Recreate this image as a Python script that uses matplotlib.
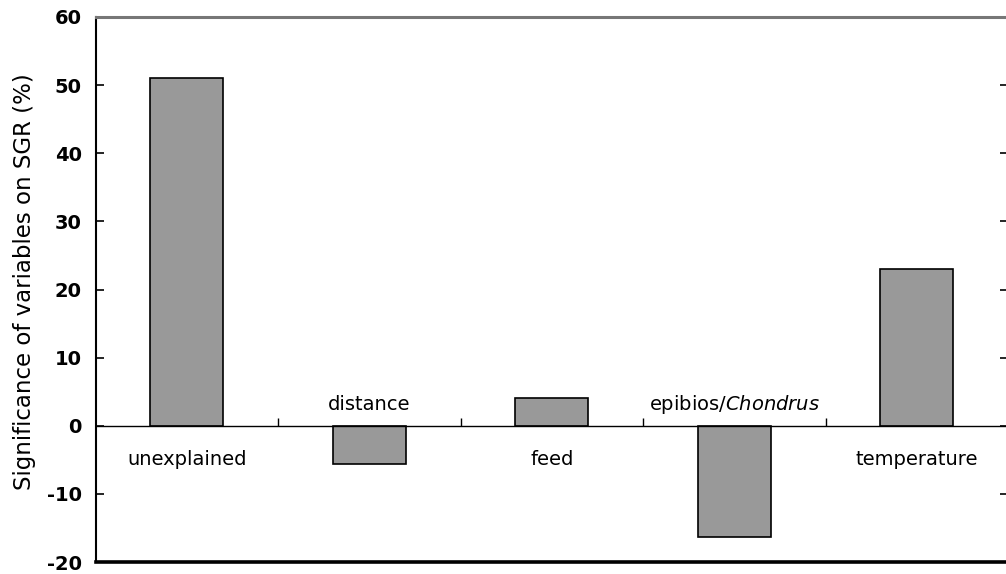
import numpy as np
import matplotlib
matplotlib.use("Agg")
import matplotlib.pyplot as plt

# values
categories = ["unexplained", "distance", "feed", r"epibios/$\mathit{Chondrus}$", "temperature"]
values = [51.0, -5.6, 4.1, -16.3, 23.0]
yticks = [-20, -10, 0, 10, 20, 30, 40, 50, 60]

plt.rcParams['font.family'] = 'DejaVu Sans'
plt.rcParams['mathtext.fontset'] = 'dejavusans'

fig = plt.figure(figsize=(10.06, 5.74), dpi=100)
ax = fig.add_axes([95.5/1006, 12/574, 912.5/1006, 545/574])

x = np.arange(len(categories))
ax.bar(x, values, width=0.4, color='#999999', edgecolor='black', linewidth=1.2, zorder=2)
ax.axhline(0, color='black', lw=1, zorder=3)

# category separator ticks on the zero line
bounds = np.arange(len(categories)) + 0.5
ax.plot(bounds, np.zeros(len(bounds)), linestyle='none', marker=2, markersize=6,
        color='black', mew=1, zorder=3, clip_on=False)

# labels: above the zero line for negative bars, below for positive ones
for i, (name, v) in enumerate(zip(categories, values)):
    if v < 0:
        ax.annotate(name, (i, 0), xytext=(0, 15), textcoords='offset points',
                    ha='center', va='center', fontsize=14)
    else:
        ax.annotate(name, (i, 0), xytext=(0, -24.5), textcoords='offset points',
                    ha='center', va='center', fontsize=14)

ax.set_xlim(-0.5, len(categories) - 0.5)
ax.set_ylim(-20, 60)
ax.set_yticks(yticks)
ax.set_yticklabels([str(t) for t in yticks], fontweight='bold', fontsize=14)
ax.set_xticks([])
ax.tick_params(axis='y', direction='in', length=6, width=1.2, pad=10, right=True)

ax.spines['top'].set_color('#777777')
ax.spines['top'].set_linewidth(2.2)
ax.spines['bottom'].set_linewidth(2.6)
ax.spines['left'].set_linewidth(1.5)
ax.spines['right'].set_linewidth(1.5)

ax.set_ylabel("Significance of variables on SGR (%)", fontsize=16.5)
ax.yaxis.set_label_coords(-0.065, 0.515)

fig.savefig("out.png", dpi=100)
